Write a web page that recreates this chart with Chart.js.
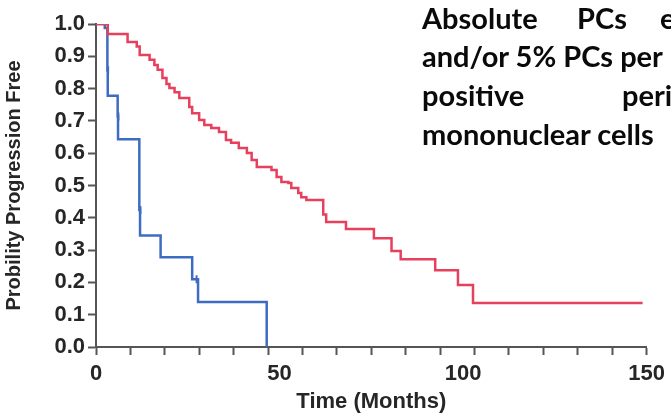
<!DOCTYPE html>
<html>
<head>
<meta charset="utf-8">
<title>Probility Progression Free</title>
<script src="https://cdn.jsdelivr.net/npm/chart.js@4.4.1/dist/chart.umd.min.js"></script>
<style>
    html, body { margin: 0; padding: 0; background: #fff; overflow: hidden; }
    #wrap { position: relative; width: 671px; height: 415px; }
    #note {
        position: absolute; left: 0; top: 0; width: 671px; height: 200px;
        font-family: Lato, "Open Sans", sans-serif; font-weight: 700; font-size: 29px;
        color: #0a0a0a; pointer-events: none;
    }
    #note span { position: absolute; white-space: pre; line-height: 0; }
</style>
</head>
<body>
<div id="wrap">
    <canvas id="kmChart" width="671" height="415"></canvas>
    <div id="note"></div>
</div>
<script>
(function() {
    'use strict';

    // --- Data: Kaplan-Meier steps (time in months, fraction progression free after the step) ---
    const redTimes = [0, 3.2, 8.6, 11.1, 11.9, 14.6, 15.9, 16.8, 18.1, 19.2, 20.0, 21.4, 22.7, 25.4, 26.2,
                      28.1, 29.5, 31.4, 33.5, 35.4, 36.8, 38.9, 41.1, 42.4, 43.8, 47.8, 49.2, 50.5, 52.4,
                      53.2, 55.1, 55.9, 57.3, 61.9, 62.7, 68.1, 75.7, 80.5, 83.0, 92.4, 98.6, 102.7, 148.9];
    const redSurv  = [1.0, 0.969, 0.944, 0.930, 0.904, 0.889, 0.873, 0.858, 0.833, 0.814, 0.802, 0.789, 0.771, 0.743, 0.724,
                      0.703, 0.687, 0.678, 0.666, 0.641, 0.632, 0.616, 0.601, 0.579, 0.557, 0.548, 0.526, 0.511, 0.508,
                      0.492, 0.477, 0.464, 0.455, 0.410, 0.387, 0.365, 0.337, 0.297, 0.272, 0.238, 0.192, 0.136, 0.136];

    const blueTimes = [0, 2.4, 3.1, 3.2, 5.9, 6.0, 11.8, 12.0, 17.6, 26.2, 27.8, 46.5];
    const blueSurv  = [1.0, 0.988, 0.857, 0.778, 0.714, 0.643, 0.424, 0.345, 0.278, 0.210, 0.139, 0.0];

    // censored observations on the blue curve
    const blueCensorTimes = [3.3, 6.1, 12.1, 27.4];
    const blueCensorSurv  = [0.857, 0.714, 0.424, 0.210];

    // --- Axis ticks ---
    const xTickLabels = [0, 50, 100, 150];
    const xMinorCount = 16;   // minor tick marks along the time axis
    const yTickValues = [0, 0.1, 0.2, 0.3, 0.4, 0.5, 0.6, 0.7, 0.8, 0.9, 1.0];

    // --- Side note text ---
    const noteLines = [
        { base: 29,  words: [['Absolute', 422], ['PCs', 577], ['e', 660]] },
        { base: 67,  words: [['and/or 5% PCs per', 422]] },
        { base: 106, words: [['positive', 422], ['peri', 622]] },
        { base: 145, words: [['mononuclear cells', 422]] }
    ];

    const RED = '#e6405c';
    const BLUE = '#3d6cc2';
    const AXIS = '#555';
    const TEXT = '#262626';
    const FONT = '"Liberation Sans", Arial, sans-serif';

    function toPoints(xs, ys) {
        return xs.map((x, i) => ({ x: x, y: ys[i] }));
    }

    function renderNote() {
        const note = document.getElementById('note');
        const size = 29;
        noteLines.forEach(line => {
            line.words.forEach(([word, left]) => {
                const s = document.createElement('span');
                s.textContent = word;
                s.style.left = left + 'px';
                s.style.top = (line.base - 0.387 * size) + 'px';
                note.appendChild(s);
            });
        });
    }

    function renderChart() {
        const ctx = document.getElementById('kmChart').getContext('2d');
        const minorStep = (xTickLabels[xTickLabels.length - 1] - xTickLabels[0]) / xMinorCount;

        new Chart(ctx, {
            type: 'line',
            data: {
                datasets: [
                    {
                        label: 'red',
                        data: toPoints(redTimes, redSurv),
                        borderColor: RED,
                        borderWidth: 2.5,
                        stepped: 'before',
                        pointRadius: 0,
                        fill: false
                    },
                    {
                        label: 'blue',
                        data: toPoints(blueTimes, blueSurv),
                        borderColor: BLUE,
                        borderWidth: 2.5,
                        stepped: 'before',
                        pointRadius: 0,
                        fill: false
                    },
                    {
                        label: 'blue censored',
                        type: 'scatter',
                        data: toPoints(blueCensorTimes, blueCensorSurv),
                        borderColor: BLUE,
                        backgroundColor: BLUE,
                        pointStyle: 'line',
                        rotation: 90,
                        pointRadius: 4,
                        borderWidth: 2,
                        showLine: false
                    }
                ]
            },
            options: {
                responsive: false,
                animation: false,
                events: [],
                layout: { padding: { top: 24, right: 20, left: 0, bottom: 0 } },
                plugins: {
                    legend: { display: false },
                    tooltip: { enabled: false }
                },
                scales: {
                    x: {
                        type: 'linear',
                        min: 0,
                        max: 150,
                        afterBuildTicks: scale => {
                            const vals = new Set(xTickLabels);
                            for (let i = 0; i <= xMinorCount; i++) vals.add(+(i * minorStep).toFixed(4));
                            scale.ticks = [...vals].sort((a, b) => a - b).map(v => ({ value: v }));
                        },
                        afterFit: scale => { scale.height = 68; },
                        border: { display: true, color: AXIS, width: 2 },
                        grid: {
                            drawOnChartArea: false,
                            tickLength: 8,
                            tickWidth: 2,
                            tickColor: c => {
                                const v = c.tick ? c.tick.value : 0;
                                const onMinor = Math.abs(v / minorStep - Math.round(v / minorStep)) < 1e-6;
                                return onMinor ? AXIS : 'rgba(0,0,0,0)';
                            }
                        },
                        ticks: {
                            autoSkip: false,
                            maxRotation: 0,
                            padding: 6,
                            color: TEXT,
                            font: { family: FONT, size: 22, weight: 'bold' },
                            callback: v => xTickLabels.includes(v) ? String(v) : ''
                        },
                        title: {
                            display: true,
                            text: 'Time (Months)',
                            color: TEXT,
                            padding: { top: 8, bottom: 0 },
                            font: { family: FONT, size: 22, weight: 'bold' }
                        }
                    },
                    y: {
                        min: 0,
                        max: 1,
                        afterBuildTicks: scale => {
                            scale.ticks = yTickValues.map(v => ({ value: v }));
                        },
                        afterFit: scale => { scale.width = 96; },
                        border: { display: true, color: AXIS, width: 2 },
                        grid: {
                            drawOnChartArea: false,
                            tickLength: 8,
                            tickWidth: 2,
                            tickColor: AXIS
                        },
                        ticks: {
                            padding: 3,
                            color: TEXT,
                            font: { family: FONT, size: 22, weight: 'bold' },
                            callback: v => v.toFixed(1)
                        },
                        title: {
                            display: true,
                            text: 'Probility Progression Free',
                            color: TEXT,
                            padding: { top: 2, bottom: 0 },
                            font: { family: FONT, size: 20, weight: 'bold' }
                        }
                    }
                }
            }
        });
    }

    renderNote();
    renderChart();
})();
</script>
</body>
</html>
